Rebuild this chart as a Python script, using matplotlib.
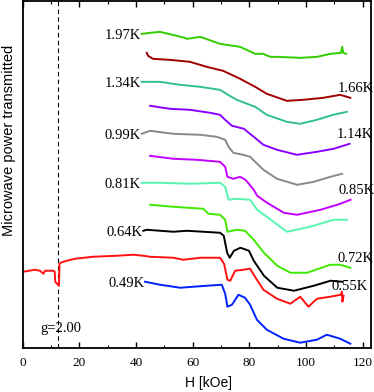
import matplotlib
matplotlib.use("Agg")
import matplotlib.pyplot as plt

# field (kOe) and transmitted power (arb. units)
h_197 = [42.0, 45.0, 48.5, 53.0, 57.3, 58.0, 62.7, 69.7, 76.8, 82.1, 84.9, 87.5, 89.9, 98.0, 104.0, 108.6, 112.4, 112.8, 113.2, 114.2]
p_197 = [314, 315, 316, 313, 310, 309, 311, 304, 301, 294, 294, 291, 291, 290, 291, 294, 295, 301, 295, 294]

h_166 = [43.8, 44.3, 46.0, 52.0, 59.1, 65.0, 70.8, 76.8, 82.1, 86.2, 93.3, 99.0, 106.1, 112.1, 115.7]
p_166 = [295, 292, 289, 288, 286, 281, 277, 269, 261, 254, 247, 248, 250, 253, 250]

h_134 = [42.0, 48.5, 55.6, 62.7, 69.7, 72.5, 75.6, 82.1, 86.2, 93.3, 98.0, 103.9, 109.6, 114.5]
p_134 = [266, 266, 263, 261, 258, 253, 248, 241, 233, 226, 224, 228, 233, 236]

h_114 = [45.0, 52.1, 59.1, 66.2, 69.7, 71.5, 73.9, 75.4, 78.1, 81.6, 85.0, 89.8, 96.8, 103.9, 109.8, 115.4]
p_114 = [242, 239, 238, 235, 233, 228, 222, 221, 219, 211, 203, 198, 193, 196, 199, 204]

h_099 = [42.0, 45.0, 53.2, 62.7, 68.6, 71.5, 72.7, 74.4, 77.9, 80.3, 82.1, 85.0, 89.8, 96.9, 102.8, 108.7, 112.8]
p_099 = [214, 217, 214, 213, 211, 208, 201, 195, 193, 191, 186, 178, 169, 163, 166, 171, 174]

h_085 = [45.0, 53.2, 61.5, 69.7, 71.5, 72.3, 74.4, 76.8, 78.7, 81.6, 82.8, 86.3, 92.2, 96.9, 105.2, 111.1, 115.8]
p_085 = [192, 189, 188, 186, 181, 171, 169, 171, 168, 158, 152, 145, 135, 133, 138, 143, 148]

h_081 = [42.0, 48.5, 59.1, 69.7, 71.5, 72.7, 75.6, 80.3, 82.8, 86.2, 93.3, 101.5, 109.8, 114.5]
p_081 = [165, 165, 164, 165, 161, 148, 149, 148, 138, 131, 116, 121, 128, 128]

h_072 = [45.0, 53.2, 63.8, 65.6, 69.7, 71.5, 72.3, 75.6, 78.5, 81.6, 85.2, 89.9, 94.5, 100.4, 108.6, 112.1, 115.7]
p_072 = [143, 141, 139, 134, 133, 128, 116, 118, 117, 108, 95, 82, 75, 75, 83, 83, 80]

h_064 = [42.6, 43.8, 53.2, 58.0, 69.7, 71.0, 72.2, 73.1, 74.6, 76.9, 79.9, 81.6, 85.2, 89.9, 95.8, 102.8, 108.7, 112.8]
p_064 = [117, 118, 116, 117, 115, 112, 95, 90, 97, 100, 97, 87, 72, 60, 57, 62, 67, 66]

h_055 = [0.2, 4.3, 6.1, 7.3, 7.9, 10.8, 11.3, 11.5, 12.8, 13.0, 13.4, 15.5, 18.5, 24.9, 33.2, 39.1, 42.6, 45.0,
         53.2, 56.7, 62.7, 69.7, 71.1, 72.3, 73.3, 75.0, 77.9, 80.3, 82.7, 85.0, 89.8, 94.5, 98.0, 100.9,
         103.9, 108.6, 112.4, 112.7, 112.9, 113.3]
p_055 = [76, 78, 77, 74, 77, 77, 76, 66, 62, 84, 85, 87, 89, 91, 92, 93, 92, 91,
         90, 88, 90, 90, 84, 68, 67, 77, 78, 79, 68, 58, 49, 44, 51, 41,
         49, 51, 53, 56, 46, 52]

h_049 = [43.2, 48.5, 55.6, 65.0, 70.3, 71.5, 72.3, 73.9, 76.2, 78.5, 80.3, 82.7, 86.2, 92.1, 98.0, 103.9, 107.4, 112.1, 115.7]
p_049 = [66, 63, 60, 62, 63, 54, 41, 43, 53, 50, 43, 28, 18, 9, 5, 8, 13, 9, 4]

curves = [
    (h_197, p_197, "#33cc00", "1.97K", None),
    (h_166, p_166, "#a00000", None, "1.66K"),
    (h_134, p_134, "#2fc08c", "1.34K", None),
    (h_114, p_114, "#8a00ff", None, "1.14K"),
    (h_099, p_099, "#888888", "0.99K", None),
    (h_085, p_085, "#c400ff", None, "0.85K"),
    (h_081, p_081, "#55f5b0", "0.81K", None),
    (h_072, p_072, "#40e800", None, "0.72K"),
    (h_064, p_064, "#000000", "0.64K", None),
    (h_055, p_055, "#ff1010", None, "0.55K"),
    (h_049, p_049, "#0022ff", "0.49K", None),
]

serif = "Liberation Serif"
sans = "Liberation Sans"

fig = plt.figure(figsize=(3.74, 3.92), dpi=100)
ax = fig.add_axes([0.0607, 0.113, 0.9313, 0.884])

ax.axvline(12.6, color="black", lw=0.8, dashes=(4, 3))

for h, p, c, left, right in curves:
    ax.plot(h, p, color=c, lw=1.4)
    if left:
        ax.annotate(left, (h[0], p[0]), xytext=(-0.5, -1), textcoords="offset points",
                    ha="right", va="center", fontsize=10.5, family=serif)
    if right:
        ax.annotate(right, (h[-1], p[-1]), xytext=(-9, 7), textcoords="offset points",
                    ha="left", va="center", fontsize=10.5, family=serif)

ax.text(6.1, 19, "g=2.00", ha="left", va="center", fontsize=10.5, family=serif)

ax.set_xlim(0, 123)
ax.set_ylim(0, 346.7)
ax.set_xticks(range(0, 121, 20))
ax.set_xticks(range(10, 121, 20), minor=True)
ax.set_yticks([])
ax.tick_params(axis="x", which="both", direction="in", top=True, pad=7, labelsize=9.5)
ax.tick_params(axis="x", which="major", length=4, width=1)
ax.tick_params(axis="x", which="minor", length=2.5, width=0.8)
for lab in ax.get_xticklabels():
    lab.set_family(serif)
for s in ax.spines.values():
    s.set_linewidth(1.3)

ax.set_xlabel("H [kOe]", family=sans, fontsize=10)
ax.xaxis.set_label_coords(0.532, -0.083)
ax.set_ylabel("Microwave power transmitted", family=sans, fontsize=10.5)
ax.yaxis.set_label_coords(-0.019, 0.598)

fig.savefig("out.png", dpi=100)
